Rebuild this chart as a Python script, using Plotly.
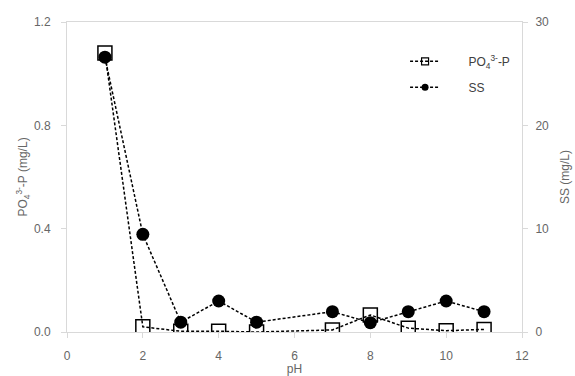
import plotly.graph_objects as go

ph = [1, 2, 3, 4, 5, 7, 8, 9, 10, 11]
po4 = [1.08, 0.02, 0.003, 0.003, 0.0, 0.008, 0.066, 0.015, 0.005, 0.01]
ss = [26.6, 9.45, 0.95, 3.0, 0.95, 1.97, 0.9, 1.97, 3.0, 1.97]

x_ticks = [0, 2, 4, 6, 8, 10, 12]
y1_ticks = [0.0, 0.4, 0.8, 1.2]
y2_ticks = [0, 10, 20, 30]

po4_name = "PO<sub>4</sub><sup>3-</sup>-P"
ss_name = "SS"

axis_grey = "#d9d9d9"
text_grey = "#666666"
font_family = "Liberation Sans, Arial, sans-serif"
pad = "\u00a0" * 7

line_style = dict(color="black", width=1.5, dash="3px,2px")

fig = go.Figure()
fig.add_trace(go.Scatter(
    x=ph, y=po4, name=po4_name, mode="lines+markers", line=line_style,
    marker=dict(symbol="square-open", size=14, color="black", line=dict(width=1.5, color="black")),
    showlegend=False, yaxis="y",
))
fig.add_trace(go.Scatter(
    x=ph, y=ss, name=ss_name, mode="lines+markers", line=line_style,
    marker=dict(symbol="circle", size=13, color="black"),
    showlegend=False, yaxis="y2",
))
# legend-only entries with smaller symbols
fig.add_trace(go.Scatter(
    x=[None], y=[None], name=pad + po4_name, mode="lines+markers", line=line_style,
    marker=dict(symbol="square-open", size=7, color="black", line=dict(width=1.2, color="black")),
    legendgroup="a", yaxis="y",
))
fig.add_trace(go.Scatter(
    x=[None], y=[None], name=pad + ss_name, mode="lines+markers", line=line_style,
    marker=dict(symbol="circle", size=7, color="black"),
    legendgroup="b", yaxis="y2",
))

tickfont = dict(size=12, color=text_grey, family=font_family)
titlefont = dict(size=12, color=text_grey, family=font_family)

fig.update_layout(
    width=575, height=376,
    margin=dict(l=67, r=53, t=22, b=44),
    paper_bgcolor="white", plot_bgcolor="white",
    font=dict(family=font_family, size=12, color=text_grey),
    showlegend=True,
    legend=dict(
        x=0.743, y=0.92, xanchor="left", yanchor="top",
        bgcolor="white", borderwidth=0,
        font=dict(size=12, color="#404040", family=font_family),
        tracegroupgap=7, traceorder="grouped",
    ),
    xaxis=dict(
        range=[0, 12], tickvals=x_ticks, showgrid=False, zeroline=False,
        showline=True, linecolor=axis_grey, linewidth=1, mirror=True,
        ticks="outside", tickcolor=axis_grey, ticklen=5, ticklabelstandoff=8,
        tickfont=tickfont, automargin=False,
        title=dict(text="pH", standoff=8, font=titlefont),
    ),
    yaxis=dict(
        range=[0, 1.2], tickvals=y1_ticks, tickformat=".1f", showgrid=False, zeroline=False,
        showline=True, linecolor=axis_grey, linewidth=1,
        ticks="outside", tickcolor=axis_grey, ticklen=5, ticklabelstandoff=8,
        tickfont=tickfont, automargin=False,
        title=dict(text="PO<sub>4</sub><sup>3-</sup>-P (mg/L)", standoff=3, font=titlefont),
    ),
    yaxis2=dict(
        range=[0, 30], tickvals=y2_ticks, overlaying="y", side="right",
        showgrid=False, zeroline=False,
        showline=True, linecolor=axis_grey, linewidth=1,
        ticks="outside", tickcolor=axis_grey, ticklen=5, ticklabelstandoff=5,
        tickfont=tickfont, automargin=False,
        title=dict(text="SS (mg/L)", standoff=12, font=titlefont),
    ),
)

fig.write_html("out.html")
